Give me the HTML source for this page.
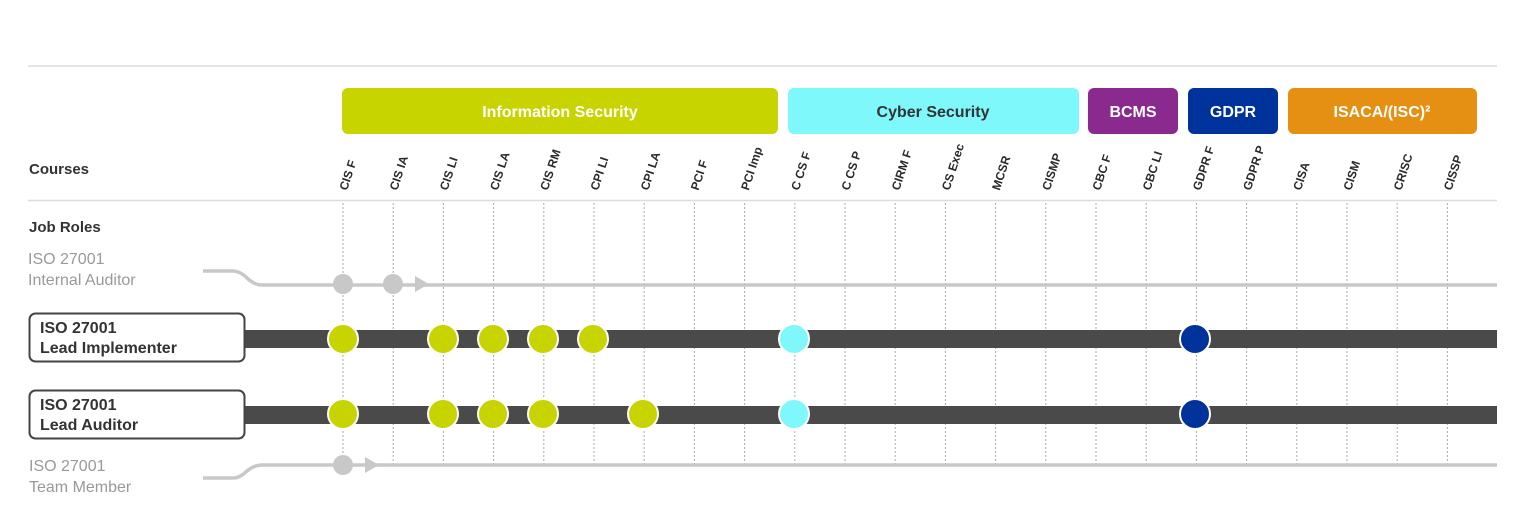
<!DOCTYPE html>
<html><head><meta charset="utf-8"><style>
html,body{margin:0;padding:0;background:#fff;}
svg{display:block;font-family:"Liberation Sans","DejaVu Sans",sans-serif;}
</style></head><body>
<svg width="1526" height="529" viewBox="0 0 1526 529" xmlns="http://www.w3.org/2000/svg">
<line x1="28" y1="66" x2="1497" y2="66" stroke="#dcdcdc" stroke-width="1.5"/>
<line x1="28" y1="200.5" x2="1497" y2="200.5" stroke="#dcdcdc" stroke-width="1.5"/>
<rect x="342" y="88" width="436" height="46" rx="6" fill="#c8d400"/>
<text x="560" y="117" text-anchor="middle" fill="#fff" font-size="16" font-weight="bold">Information Security</text>
<rect x="788" y="88" width="291" height="46" rx="6" fill="#7ff8fb"/>
<text x="933" y="117" text-anchor="middle" fill="#333" font-size="16" font-weight="bold">Cyber Security</text>
<rect x="1088" y="88" width="90" height="46" rx="6" fill="#8b2a8e"/>
<text x="1133" y="117" text-anchor="middle" fill="#fff" font-size="16" font-weight="bold">BCMS</text>
<rect x="1188" y="88" width="90" height="46" rx="6" fill="#00329c"/>
<text x="1233" y="117" text-anchor="middle" fill="#fff" font-size="16" font-weight="bold">GDPR</text>
<rect x="1288" y="88" width="189" height="46" rx="6" fill="#e59012"/>
<text x="1382" y="117" text-anchor="middle" fill="#fff" font-size="16" font-weight="bold">ISACA/(ISC)²</text>
<text x="29" y="174" fill="#333" font-size="15" font-weight="bold">Courses</text>
<text x="29" y="232" fill="#333" font-size="15" font-weight="bold">Job Roles</text>
<text x="28" y="264" fill="#999" font-size="16">ISO 27001</text>
<text x="28" y="285" fill="#999" font-size="16">Internal Auditor</text>
<text x="29" y="471" fill="#999" font-size="16">ISO 27001</text>
<text x="29" y="492" fill="#999" font-size="16">Team Member</text>
<g id="cols" font-size="12" font-weight="bold" fill="#2a2a2a">
</g>
<path d="M203,271 H233 Q240,271 247,278 Q254,285 262,285 H1497" fill="none" stroke="#c8c8c8" stroke-width="3.5"/>
<path d="M203,478 H233 Q240,478 247,471 Q254,465 262,465 H1497" fill="none" stroke="#c8c8c8" stroke-width="3.5"/>
<circle cx="343" cy="284" r="10" fill="#c8c8c8"/>
<circle cx="393" cy="284" r="10" fill="#c8c8c8"/>
<polygon points="415,276 429,284 415,292" fill="#c8c8c8"/>
<circle cx="343" cy="465" r="10" fill="#c8c8c8"/>
<polygon points="365,457 379,465 365,473" fill="#c8c8c8"/>
<rect x="245" y="330" width="1252" height="18" fill="#4a4a4a"/>
<rect x="245" y="406" width="1252" height="18" fill="#4a4a4a"/>
<rect x="29.5" y="313.5" width="215" height="48" rx="6" fill="#fff" stroke="#444" stroke-width="2"/>
<rect x="29.5" y="390.5" width="215" height="48" rx="6" fill="#fff" stroke="#444" stroke-width="2"/>
<text x="40" y="333" fill="#333" font-size="16" font-weight="bold">ISO 27001</text>
<text x="40" y="353" fill="#333" font-size="16" font-weight="bold">Lead Implementer</text>
<text x="40" y="410" fill="#333" font-size="16" font-weight="bold">ISO 27001</text>
<text x="40" y="430" fill="#333" font-size="16" font-weight="bold">Lead Auditor</text>
<g stroke="#fff" stroke-width="2">
<circle cx="343" cy="339" r="15" fill="#c8d400"/><circle cx="443" cy="339" r="15" fill="#c8d400"/><circle cx="493" cy="339" r="15" fill="#c8d400"/><circle cx="543" cy="339" r="15" fill="#c8d400"/><circle cx="593" cy="339" r="15" fill="#c8d400"/>
<circle cx="794" cy="339" r="15" fill="#7ff8fb"/><circle cx="1195" cy="339" r="15" fill="#00329c"/>
<circle cx="343" cy="414" r="15" fill="#c8d400"/><circle cx="443" cy="414" r="15" fill="#c8d400"/><circle cx="493" cy="414" r="15" fill="#c8d400"/><circle cx="543" cy="414" r="15" fill="#c8d400"/><circle cx="643" cy="414" r="15" fill="#c8d400"/>
<circle cx="794" cy="414" r="15" fill="#7ff8fb"/><circle cx="1195" cy="414" r="15" fill="#00329c"/>
</g>
</svg>
<script>
var names=["CIS F","CIS IA","CIS LI","CIS LA","CIS RM","CPI LI","CPI LA","PCI F","PCI Imp","C CS F","C CS P","CIRM F","CS Exec","MCSR","CISMP","CBC F","CBC LI","GDPR F","GDPR P","CISA","CISM","CRISC","CISSP"];
var g=document.getElementById('cols'),ns="http://www.w3.org/2000/svg",svg=g.ownerSVGElement;
names.forEach(function(n,i){var x=343+i*50.2;
var l=document.createElementNS(ns,'line');l.setAttribute('x1',x);l.setAttribute('x2',x);l.setAttribute('y1',203);l.setAttribute('y2',465);l.setAttribute('stroke','#aaa');l.setAttribute('stroke-width','1');l.setAttribute('stroke-dasharray','2 2');svg.insertBefore(l,g);
var t=document.createElementNS(ns,'text');t.setAttribute('transform','translate('+(x+4)+',191) rotate(-72)');t.textContent=n;g.appendChild(t);});
</script>
</body></html>
